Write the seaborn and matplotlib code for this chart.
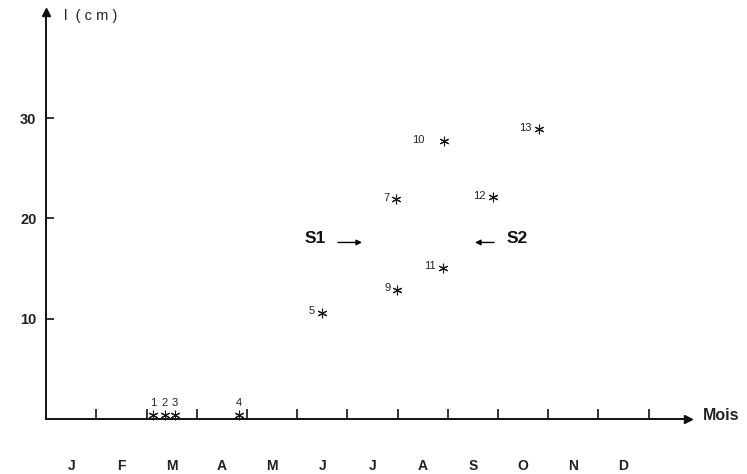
import numpy as np
import pandas as pd
import matplotlib
matplotlib.use("Agg")
import matplotlib.pyplot as plt
import seaborn as sns

# ---------------------------------------------------------
# Data (x in months from 1 January, y in cm)
# ---------------------------------------------------------
sample_ids = ["1", "2", "3", "4", "5", "7", "9", "10", "11", "12", "13"]
sample_month = [2.13, 2.36, 2.56, 3.84, 5.49, 6.97, 6.99, 7.92, 7.90, 8.90, 9.81]
sample_length = [0.4, 0.4, 0.4, 0.4, 10.6, 21.9, 12.9, 27.7, 15.1, 22.1, 28.9]

month_labels = ["J", "F", "M", "A", "M", "J", "J", "A", "S", "O", "N", "D"]
y_ticks = [10, 20, 30]

# S1 / S2 arrows (level in cm, arrow start and end in months)
s_names = ["S1", "S2"]
s_level = [17.6, 17.6]
s_arrow_from = [5.81, 8.92]
s_arrow_to = [6.29, 8.54]
s_text_x = [5.35, 9.38]

df = pd.DataFrame({"id": sample_ids, "month": sample_month, "length": sample_length})

# ---------------------------------------------------------
# Figure
# ---------------------------------------------------------
sns.set_theme(style="white")
plt.rcParams["font.family"] = ["Liberation Sans", "DejaVu Sans"]

fig = plt.figure(figsize=(7.47, 4.74), dpi=100)
ax = fig.add_axes([0, 0, 1, 1])

sns.scatterplot(data=df, x="month", y="length", marker=(6, 2, 0), s=40,
                color="#1a1a1a", edgecolor="#1a1a1a", linewidth=0.8, ax=ax, zorder=3)

# sample numbers
for sid, mx, ly in zip(sample_ids, sample_month, sample_length):
    if ly < 2:
        ax.annotate(sid, (mx, ly), xytext=(0, 5), textcoords="offset points",
                    ha="center", va="bottom", fontsize=8, color="#222222")
    else:
        gap = -14 if sid == "10" else -5
        ax.annotate(sid, (mx, ly), xytext=(gap, 1), textcoords="offset points",
                    ha="right", va="center", fontsize=8, color="#222222")

# S1 / S2 arrows
for name, lvl, x0, x1, tx in zip(s_names, s_level, s_arrow_from, s_arrow_to, s_text_x):
    ax.annotate("", xy=(x1, lvl), xytext=(x0, lvl),
                arrowprops=dict(arrowstyle="-|>", color="black", lw=1.0,
                                mutation_scale=8, shrinkA=0, shrinkB=0))
    ax.text(tx, lvl + 0.4, name, ha="center", va="center",
            fontsize=12.5, fontweight="bold", color="#111111")

# limits chosen so that origin sits at the same pixel as the reference
ax.set_xlim(-0.922, 13.96)
ax.set_ylim(-5.48, 41.77)

# axes lines
for side in ["top", "right"]:
    ax.spines[side].set_visible(False)
ax.spines["bottom"].set_position(("data", 0))
ax.spines["left"].set_position(("data", 0))
ax.spines["bottom"].set_bounds(0, 12.7)
ax.spines["left"].set_bounds(0, 40.4)
for side in ["bottom", "left"]:
    ax.spines[side].set_color("#111111")
    ax.spines[side].set_linewidth(1.4)
ax.plot([12.78], [0], marker=">", markersize=6, color="#111111", clip_on=False)
ax.plot([0], [40.6], marker="^", markersize=6, color="#111111", clip_on=False)

# ticks
ax.set_xticks(range(1, 13))
ax.set_xticklabels([])
ax.set_xticks(np.arange(12) + 0.5, minor=True)
ax.set_xticklabels(month_labels, minor=True, fontsize=10, fontweight="bold",
                   color="#222222")
ax.tick_params(axis="x", which="major", direction="in", length=7, width=1.2,
               color="#111111", bottom=True)
ax.tick_params(axis="x", which="minor", length=0, pad=29, bottom=True)

ax.set_yticks(y_ticks)
ax.set_yticklabels([str(t) for t in y_ticks], fontsize=10.5, fontweight="bold",
                   color="#222222")
ax.tick_params(axis="y", direction="in", length=6, width=1.2, color="#111111",
               pad=7, left=True)

ax.set_xlabel("")
ax.set_ylabel("")
ax.grid(False)

# axis titles
ax.text(13.08, 0.4, "Mois", ha="left", va="center", fontsize=11.5,
        fontweight="bold", color="#222222")
ax.text(0.35, 40.2, "l  ( c m )", ha="left", va="center", fontsize=10.5,
        color="#222222")

fig.savefig("out.png", dpi=100, facecolor="white")
